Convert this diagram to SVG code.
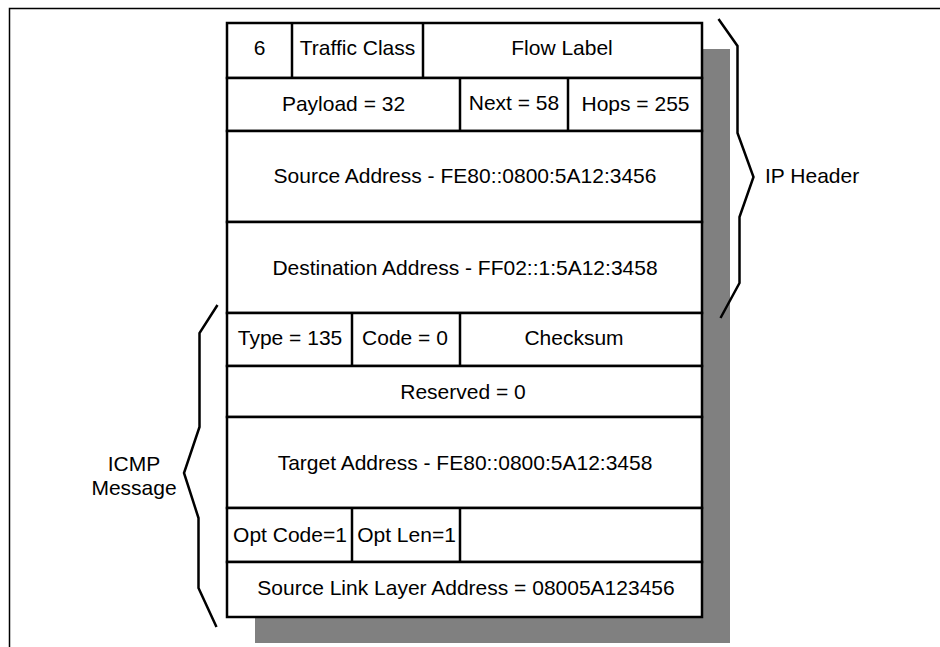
<svg xmlns="http://www.w3.org/2000/svg" width="940" height="647" viewBox="0 0 940 647">
<style>
.t{font-family:"Liberation Sans",Arial,sans-serif;font-size:21px;fill:#000;text-anchor:middle}
.tl{font-family:"Liberation Sans",Arial,sans-serif;font-size:21px;fill:#000}
.cell{fill:#fff;stroke:#000;stroke-width:2.5}
.ln{stroke:#000;stroke-width:2.5;fill:none}
.br{stroke:#000;stroke-width:2.5;fill:none;stroke-linejoin:miter}
</style>
<rect x="0" y="0" width="940" height="647" fill="#fff"/>
<g id="frame"><path d="M9.5 647V8.5H940" fill="none" stroke="#000" stroke-width="1.5"/></g>
<rect id="shadow" x="255" y="49" width="475" height="594" fill="#808080"/>
<g id="row1">
<rect class="cell" x="227" y="23" width="475" height="55"/>
<line class="ln" x1="292" y1="23" x2="292" y2="78"/>
<line class="ln" x1="423" y1="23" x2="423" y2="78"/>
<text class="t" x="259.5" y="55">6</text>
<text class="t" x="357.5" y="55">Traffic Class</text>
<text class="t" x="562" y="55">Flow Label</text>
</g>
<g id="row2">
<rect class="cell" x="227" y="78" width="475" height="53"/>
<line class="ln" x1="460" y1="78" x2="460" y2="131"/>
<line class="ln" x1="568" y1="78" x2="568" y2="131"/>
<text class="t" x="343.5" y="111">Payload = 32</text>
<text class="t" x="514" y="110">Next = 58</text>
<text class="t" x="635.5" y="111">Hops = 255</text>
</g>
<g id="source">
<rect class="cell" x="227" y="131" width="475" height="91"/>
<text class="t" x="465" y="183">Source Address - FE80::0800:5A12:3456</text>
</g>
<g id="dest">
<rect class="cell" x="227" y="222" width="475" height="91"/>
<text class="t" x="465" y="275">Destination Address - FF02::1:5A12:3458</text>
</g>
<g id="row-type">
<rect class="cell" x="227" y="313" width="475" height="53"/>
<line class="ln" x1="352" y1="313" x2="352" y2="366"/>
<line class="ln" x1="460" y1="313" x2="460" y2="366"/>
<text class="t" x="290" y="345">Type = 135</text>
<text class="t" x="405" y="345">Code = 0</text>
<text class="t" x="574" y="345">Checksum</text>
</g>
<g id="reserved">
<rect class="cell" x="227" y="366" width="475" height="51"/>
<text class="t" x="463" y="399">Reserved = 0</text>
</g>
<g id="target">
<rect class="cell" x="227" y="417" width="475" height="91"/>
<text class="t" x="465" y="470">Target Address - FE80::0800:5A12:3458</text>
</g>
<g id="row-opt">
<rect class="cell" x="227" y="508" width="475" height="54"/>
<line class="ln" x1="352" y1="508" x2="352" y2="562"/>
<line class="ln" x1="460" y1="508" x2="460" y2="562"/>
<text class="t" x="290" y="542">Opt Code=1</text>
<text class="t" x="406.5" y="542">Opt Len=1</text>
</g>
<g id="linklayer">
<rect class="cell" x="227" y="562" width="475" height="55"/>
<text class="t" x="466" y="595">Source Link Layer Address = 08005A123456</text>
</g>
<g id="connectors">
<path class="br" d="M718.5 19L737.5 46V133L753.5 177L739.5 217V283L720.5 318"/>
<path class="br" d="M217.5 305L199.5 333V427L184 473L198.5 518V588L216.5 627"/>
</g>
<g id="ip-header-label"><text class="tl" x="765" y="183">IP Header</text></g>
<g id="icmp-label">
<text class="t" x="134" y="471">ICMP</text>
<text class="t" x="134" y="495">Message</text>
</g>
</svg>
